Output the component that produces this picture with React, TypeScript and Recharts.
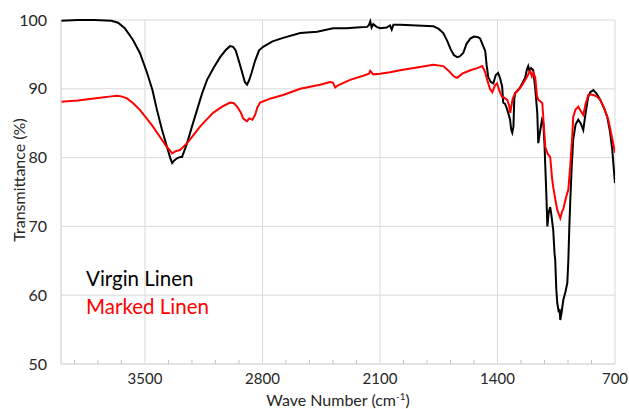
import {
  LineChart,
  Line,
  XAxis,
  YAxis,
  CartesianGrid,
  ReferenceLine,
  Legend,
  Label,
} from "recharts";

// 파수 (cm-1) / 투과율 (%) - 그림에서 읽은 값
const virginWave = [
  4000, 3900, 3800, 3700, 3660, 3620, 3571, 3530, 3487, 3455, 3428, 3400, 3368, 3350, 3338, 3325, 3309, 3290,
  3279, 3265, 3249, 3220, 3190, 3160, 3130, 3090, 3052, 3020, 2993, 2975, 2960, 2940, 2920, 2905, 2892, 2880,
  2865, 2845, 2820, 2796, 2740, 2677, 2575, 2474, 2379, 2300, 2240, 2176, 2165, 2158, 2150, 2140, 2120, 2099,
  2060, 2040, 2030, 2020, 1980, 1880, 1783, 1750, 1723, 1700, 1680, 1660, 1640, 1625, 1604, 1585, 1562, 1540,
  1515, 1503, 1490, 1473, 1465, 1455, 1440, 1425, 1410, 1396, 1384, 1372, 1366, 1355, 1345, 1336, 1325, 1318,
  1312, 1305, 1300, 1294, 1270, 1252, 1235, 1225, 1217, 1210, 1200, 1187, 1175, 1163, 1157, 1145, 1135, 1127,
  1120, 1115, 1108, 1103, 1095, 1086, 1078, 1068, 1060, 1056, 1050, 1044, 1035, 1030, 1026, 1018, 1008, 995,
  984, 978, 972, 966, 958, 949, 935, 919, 905, 889, 875, 860, 847, 829, 810, 788, 765, 746, 730, 716, 706, 700,
];
const virginT = [
  99.9, 100, 100, 99.9, 99.6, 98.8, 97.1, 95.2, 92.3, 89.8, 86.9, 84.2, 81.5, 80.0, 79.2, 79.6, 79.9, 80.1,
  80.1, 81.0, 82.1, 84.5, 86.9, 89.3, 91.3, 93.1, 94.6, 95.6, 96.2, 96.1, 95.6, 94.0, 92.3, 91.0, 90.6, 91.2,
  92.3, 94.0, 95.6, 96.1, 96.9, 97.4, 98.1, 98.3, 98.8, 98.8, 98.9, 99.0, 99.3, 99.8, 98.9, 99.4, 99.0, 98.8,
  98.9, 99.2, 98.6, 99.3, 99.3, 99.2, 99.1, 98.7, 98.1, 97.0, 95.8, 94.9, 94.6, 94.7, 95.2, 96.5, 97.3, 97.6,
  97.5, 97.3, 96.5, 95.5, 93.5, 91.7, 91.0, 90.8, 92.0, 92.3, 91.5, 90.3, 88.0, 87.8, 87.2, 86.5, 85.5, 84.0,
  83.6, 84.5, 88.5, 89.4, 90.0, 90.8, 91.6, 92.8, 93.3, 92.6, 93.0, 92.7, 90.0, 86.5, 82.1, 84.0, 85.5, 85.0,
  82.0, 78.6, 74.0, 70.0, 72.0, 72.8, 71.5, 69.5, 66.0, 65.1, 61.0, 58.9, 57.5, 58.0, 56.4, 57.5, 59.3, 60.5,
  61.8, 65.0, 70.0, 74.0, 78.6, 82.6, 84.8, 85.5, 85.0, 84.0, 86.5, 88.8, 89.5, 89.8, 89.3, 88.4, 87.2, 85.9,
  83.8, 81.1, 78.0, 76.3,
];

const markedWave = [
  4000, 3900, 3768, 3700, 3667, 3640, 3607, 3570, 3529, 3490, 3452, 3410, 3368, 3350, 3338, 3320, 3291, 3270,
  3249, 3210, 3172, 3130, 3094, 3040, 2993, 2970, 2951, 2930, 2915, 2900, 2892, 2878, 2860, 2844, 2830, 2814,
  2750, 2677, 2575, 2457, 2397, 2380, 2367, 2350, 2278, 2200, 2165, 2158, 2140, 2099, 2040, 1980, 1880, 1783,
  1723, 1690, 1660, 1640, 1610, 1562, 1520, 1491, 1475, 1461, 1445, 1431, 1415, 1402, 1390, 1372, 1360, 1342,
  1330, 1324, 1310, 1294, 1270, 1252, 1230, 1215, 1205, 1195, 1185, 1175, 1165, 1157, 1145, 1133, 1125, 1115,
  1100, 1086, 1075, 1068, 1056, 1044, 1035, 1026, 1015, 1008, 996, 984, 978, 966, 955, 949, 935, 919, 905, 889,
  875, 859, 845, 829, 810, 788, 765, 740, 720, 700,
];
const markedT = [
  88.1, 88.3, 88.7, 88.9, 89.0, 88.9, 88.6, 87.9, 86.9, 85.7, 84.5, 83.0, 81.5, 81.0, 80.6, 80.9, 81.1, 81.6,
  82.1, 83.3, 84.5, 85.6, 86.5, 87.4, 88.0, 87.9, 87.4, 86.6, 85.7, 85.4, 85.3, 85.7, 85.5, 86.2, 87.3, 88.0,
  88.6, 89.1, 90.0, 90.6, 91.0, 90.9, 90.2, 90.5, 91.3, 91.9, 92.2, 92.6, 92.1, 92.2, 92.4, 92.7, 93.1, 93.5,
  93.3, 92.6, 91.8, 91.6, 92.2, 92.7, 93.0, 93.3, 92.5, 91.3, 90.0, 89.5, 90.5, 90.8, 89.8, 88.8, 88.7, 88.4,
  87.5, 86.5, 88.5, 89.4, 90.0, 90.6, 91.5, 92.2, 92.6, 91.8, 92.3, 91.6, 89.0, 88.4, 88.2, 87.9, 85.0, 81.5,
  80.5, 80.1, 77.0, 75.7, 74.0, 72.4, 71.8, 71.2, 72.2, 72.5, 73.8, 74.9, 75.3, 79.0, 83.0, 85.9, 87.0, 87.4,
  86.8, 86.2, 87.8, 89.1, 89.2, 89.1, 88.9, 88.4, 87.2, 85.5, 83.2, 80.7,
];

const xTicks = [3500, 2800, 2100, 1400, 700];
const yTicks = [50, 60, 70, 80, 90, 100];
// 보조 눈금 (140 간격)
const minorTicks = [
  3920, 3780, 3640, 3360, 3220, 3080, 2940, 2660, 2520, 2380, 2240, 1960, 1820, 1680, 1540, 1260, 1120, 980, 840,
];

const SERIES = [
  { name: "Virgin Linen", color: "#000000", wave: virginWave, values: virginT },
  { name: "Marked Linen", color: "#ff0000", wave: markedWave, values: markedT },
];

const FONT = "Lato, 'Open Sans', sans-serif";
const TEXT = "#262626";

export default function App() {
  const series = SERIES.map((s) => ({
    ...s,
    data: s.wave.map((w, i) => ({ wave: w, t: s.values[i] })),
  }));

  return (
    <div style={{ position: "fixed", left: 0, top: 0, background: "#fff" }}>
      <LineChart
        width={629}
        height={409}
        margin={{ top: 20, right: 14, left: 0, bottom: 0 }}
        style={{ fontFamily: FONT }}
      >
        <CartesianGrid stroke="#d9d9d9" strokeWidth={1} />
        <XAxis
          dataKey="wave"
          type="number"
          domain={[700, 4000]}
          reversed
          ticks={xTicks}
          allowDataOverflow
          height={45}
          tickLine={false}
          tickSize={0}
          tickMargin={9}
          axisLine={{ stroke: "#d9d9d9" }}
          tick={{ fill: TEXT, fontSize: 15 }}
        >
          <Label
            position="insideBottom"
            content={(props: any) => {
              const vb = props.viewBox;
              return (
                <text x={vb.x + vb.width / 2} y={vb.y + vb.height - 3} textAnchor="middle" fill={TEXT} fontSize={16}>
                  Wave Number (cm
                  <tspan fontSize={10} dy={-6}>-1</tspan>
                  <tspan dy={6}>)</tspan>
                </text>
              );
            }}
          />
        </XAxis>
        <YAxis
          type="number"
          domain={[50, 100]}
          ticks={yTicks}
          width={61}
          tickLine={false}
          tickMargin={8}
          axisLine={{ stroke: "#d9d9d9" }}
          tick={{ fill: TEXT, fontSize: 16 }}
        >
          <Label
            position="center"
            content={(props: any) => {
              const vb = props.viewBox;
              const cx = 25;
              const cy = vb.y + vb.height / 2 - 12;
              return (
                <text
                  x={cx}
                  y={cy}
                  textAnchor="middle"
                  fill={TEXT}
                  fontSize={16}
                  transform={`rotate(-90, ${cx}, ${cy})`}
                >
                  Transmittance (%)
                </text>
              );
            }}
          />
        </YAxis>
        {minorTicks.map((m) => (
          <ReferenceLine
            key={m}
            segment={[
              { x: m, y: 50 },
              { x: m, y: 50.6 },
            ]}
            stroke="#bfbfbf"
          />
        ))}
        {series.map((s) => (
          <Line
            key={s.name}
            data={s.data}
            dataKey="t"
            name={s.name}
            type="linear"
            stroke={s.color}
            strokeWidth={2}
            dot={false}
            isAnimationActive={false}
          />
        ))}
        <Legend
          layout="vertical"
          align="center"
          verticalAlign="middle"
          wrapperStyle={{ left: 86, top: 264, width: "auto" }}
          content={() => (
            <div style={{ fontFamily: FONT, fontSize: 20.5, lineHeight: "28px" }}>
              {SERIES.map((s) => (
                <div key={s.name} style={{ color: s.color }}>
                  {s.name}
                </div>
              ))}
            </div>
          )}
        />
      </LineChart>
    </div>
  );
}
